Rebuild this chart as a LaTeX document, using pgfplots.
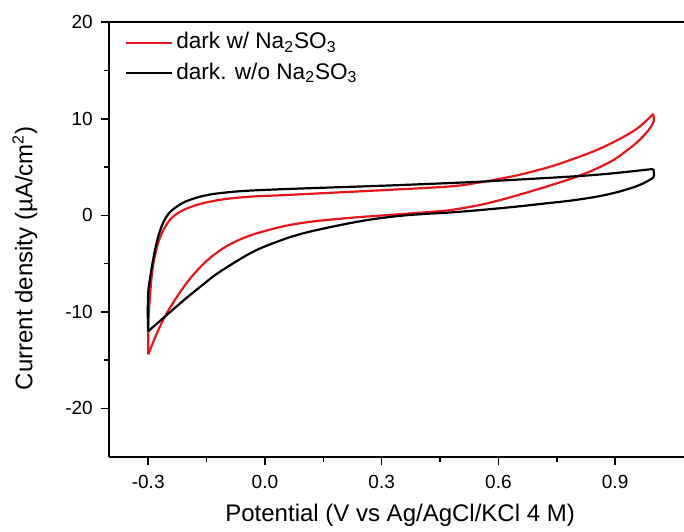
\documentclass[border=0pt]{standalone}
\usepackage{fontspec}
\setmainfont{Liberation Sans}
\usepackage{pgfplots}
\pgfplotsset{compat=1.18}
\definecolor{cvred}{RGB}{228,24,28}
\begin{document}
\begin{tikzpicture}
\begin{axis}[
  scale only axis,
  width=287.35pt, height=217.2pt,
  xmin=-0.4, xmax=1.077, ymin=-25, ymax=20,
  axis x line*=box, axis y line*=left,
  axis line style={line width=0.8pt, black},
  xtick={-0.3,0,0.3,0.6,0.9}, xticklabels={-0.3,0.0,0.3,0.6,0.9},
  ytick={-20,-10,0,10,20}, yticklabels={-20,-10,0,10,20},
  minor x tick num=1, minor y tick num=1,
  tick align=outside, xtick pos=bottom, ytick pos=left,
  major tick length=4.25pt, minor tick length=2.5pt,
  tick style={line width=0.8pt, black},
  ticklabel style={font=\fontsize{9.5}{11}\selectfont},
  xticklabel style={yshift=-1.5pt},
  yticklabel style={xshift=-0.5pt},
  xlabel={Potential (V vs Ag/AgCl/KCl 4 M)},
  ylabel={Current density (µA/cm\textsuperscript{2})},
  label style={font=\fontsize{12}{14}\selectfont},
  xlabel style={at={(axis description cs:0.506,-0.150)}, anchor=base},
  ylabel style={at={(axis description cs:-0.134,0.457)}, anchor=base},
  legend style={draw=none, fill=none, at={(axis description cs:0.0268,0.918)}, anchor=west,
    inner sep=0pt, font=\fontsize{11.3}{13}\selectfont,
    nodes={inner sep=1.5pt, text height=8.5pt, text depth=2.5pt}, row sep=1.3pt},
  legend cell align=left,
  legend image code/.code={\draw[#1] (0pt,0pt) -- (23pt,0pt);},
  legend style={/tikz/every even column/.append style={column sep=1.2pt}},
]
\addplot[cvred, line width=1.1pt, smooth, tension=0.55] coordinates {
(-0.300,-14.4) (-0.2997,-11.5) (-0.296,-8.7) (-0.289,-5.6) (-0.277,-3.2)
(-0.262,-1.6) (-0.243,-0.4) (-0.221,0.3) (-0.192,0.85) (-0.155,1.3) (-0.1,1.7)
(-0.032,1.95) (0.05,2.1) (0.15,2.3) (0.322,2.65) (0.476,3.0) (0.553,3.42)
(0.648,4.15) (0.734,5.05) (0.810,6.1) (0.860,6.9) (0.906,7.8)
(0.957,9.0) (0.998,10.5)
};
\addlegendentry{dark w/ Na\textsubscript{2}SO\textsubscript{3}}
\addplot[cvred, line width=1.1pt, smooth, tension=0.55, forget plot] coordinates {
(0.998,10.5) (0.999,9.7) (0.987,8.9) (0.970,8.1) (0.950,7.35) (0.930,6.72)
(0.896,5.74) (0.850,4.8) (0.801,4.0) (0.741,3.2) (0.681,2.46) (0.617,1.72)
(0.553,1.08) (0.476,0.55) (0.40,0.28) (0.322,0.05) (0.230,-0.22) (0.141,-0.55)
(0.09,-0.82) (0.040,-1.2) (-0.032,-2.0) (-0.08,-2.8) (-0.118,-3.7) (-0.160,-5.1)
(-0.203,-7.1) (-0.246,-9.7) (-0.272,-11.7) (-0.300,-14.4)
};
\addplot[black, line width=1.1pt, smooth, tension=0.55] coordinates {
(-0.300,-12.0) (-0.301,-10.4) (-0.300,-8.0) (-0.294,-6.2) (-0.286,-4.3) (-0.275,-2.3)
(-0.262,-0.8) (-0.246,0.25) (-0.225,0.95) (-0.203,1.45) (-0.170,1.9) (-0.135,2.2)
(-0.08,2.45) (-0.032,2.58) (0.05,2.72) (0.141,2.85) (0.322,3.1) (0.476,3.35)
(0.553,3.49) (0.648,3.7) (0.810,4.08) (0.900,4.38) (0.998,4.81)
};
\addlegendentry{dark. w/o Na\textsubscript{2}SO\textsubscript{3}}
\addplot[black, line width=1.1pt, smooth, tension=0.55, forget plot] coordinates {
(0.998,4.81) (0.999,4.0) (0.981,3.5) (0.960,3.1) (0.939,2.8) (0.900,2.35) (0.853,1.94)
(0.790,1.55) (0.724,1.25) (0.640,0.88) (0.553,0.55) (0.476,0.3) (0.400,0.12) (0.347,-0.05)
(0.280,-0.38) (0.219,-0.8) (0.141,-1.45) (0.09,-1.95) (0.040,-2.6) (-0.032,-3.8)
(-0.118,-5.9) (-0.160,-7.2) (-0.203,-8.6) (-0.246,-10.1) (-0.300,-12.0)
};
\coordinate (bl) at (rel axis cs:0,0);
\coordinate (tr) at (rel axis cs:1,1);
\end{axis}
\pgfresetboundingbox
\path ([xshift=-54.65pt,yshift=-37.15pt]bl) rectangle ([yshift=11.15pt]tr);
\end{tikzpicture}
\end{document}
